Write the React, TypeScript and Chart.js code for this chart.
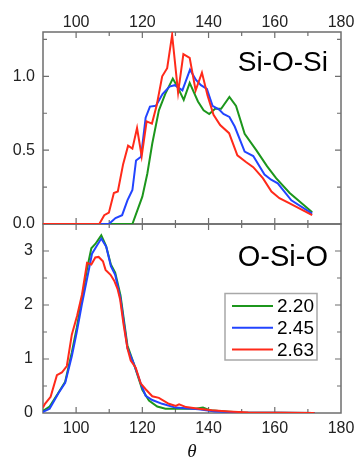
import React, { useEffect, useRef } from 'react';
import { Chart, registerables } from 'chart.js';

Chart.register(...registerables);

// ---------- data ----------
const SERIES_LABELS = ['2.20', '2.45', '2.63'];
const SERIES_COLORS = ['#1c961c', '#2244ff', '#ff2a1a'];

const X_TICKS = [100, 120, 140, 160, 180];
const TOP_Y_TICKS = [0, 0.5, 1.0];
const BOT_Y_TICKS = [0, 1, 2, 3];

// Si-O-Si panel
const sosGreenTheta = [90, 117, 120, 121.5, 123, 125, 126.9, 129.2, 130.6, 132.5, 134.3, 136.8, 138.5, 140.2, 142, 143.8, 146.3, 148.3, 150.9, 154.4, 157.7, 160.4, 164.5, 171.3];
const sosGreenVal = [0, 0, 0.185, 0.34, 0.545, 0.77, 0.88, 0.985, 0.93, 0.84, 0.955, 0.83, 0.77, 0.745, 0.78, 0.78, 0.86, 0.8, 0.61, 0.5, 0.39, 0.31, 0.21, 0.08];

const sosBlueTheta = [90, 109.9, 111.9, 113.9, 115.5, 117, 118.1, 119.6, 121, 122.3, 124.1, 126.1, 128.2, 129.8, 132.1, 134.4, 136.2, 137.7, 139.5, 141.2, 143.2, 144.5, 146.3, 147.9, 150.9, 153.5, 156.9, 158.9, 160.9, 165, 171.3];
const sosBlueVal = [0, 0, 0.04, 0.06, 0.16, 0.23, 0.43, 0.455, 0.72, 0.795, 0.8, 0.88, 0.93, 0.94, 0.905, 1.045, 0.975, 0.94, 0.915, 0.8, 0.775, 0.745, 0.725, 0.66, 0.49, 0.46, 0.335, 0.3, 0.275, 0.16, 0.07];

const sosRedTheta = [90, 107, 108.5, 109.9, 111.4, 112.6, 114.2, 115.7, 117, 118.4, 119.8, 121.3, 122.9, 124.3, 126, 127.5, 129, 130.8, 132.4, 134.3, 136.1, 138, 139.7, 141.5, 143.5, 146.2, 148.7, 151.3, 153.5, 156.4, 159, 161.4, 164.5, 171.3];
const sosRedVal = [0, 0, 0.06, 0.077, 0.21, 0.22, 0.405, 0.53, 0.51, 0.65, 0.46, 0.695, 0.68, 0.8, 1.0, 1.055, 1.28, 0.89, 1.15, 1.125, 0.905, 1.025, 0.87, 0.74, 0.67, 0.615, 0.465, 0.42, 0.385, 0.31, 0.22, 0.175, 0.14, 0.06];

// O-Si-O panel
const osoGreenTheta = [90, 92, 94.7, 96.7, 98.7, 100.2, 101.7, 103.4, 104.6, 105.8, 107.6, 109, 110.5, 111.8, 113.4, 115.5, 117.5, 120, 122, 124.5, 127, 132, 136, 138.3, 140.3, 145, 150, 172];
const osoGreenVal = [0.04, 0.12, 0.38, 0.58, 1.12, 1.58, 2.1, 2.7, 3.05, 3.13, 3.29, 3.1, 2.75, 2.6, 2.18, 1.25, 0.9, 0.43, 0.23, 0.12, 0.08, 0.08, 0.08, 0.1, 0.05, 0.03, 0.01, 0];

const osoBlueTheta = [90, 92, 94.7, 96.7, 98.7, 100.2, 101.7, 103.8, 104.8, 106.3, 107.6, 109.1, 110.5, 111.8, 113.4, 115.5, 117.5, 119.8, 121, 123, 126, 130, 137, 142, 150, 172];
const osoBlueVal = [0.02, 0.08, 0.37, 0.56, 1.05, 1.5, 2.0, 2.64, 2.95, 3.1, 3.23, 3.08, 2.72, 2.56, 2.12, 1.2, 0.9, 0.5, 0.32, 0.24, 0.17, 0.1, 0.07, 0.03, 0.01, 0];

const osoRedTheta = [90, 90.6, 92.3, 94.2, 95.7, 97.2, 98.7, 100.3, 101.8, 103.3, 104.6, 105.8, 106.8, 108.1, 108.9, 110.4, 111.5, 112.5, 113.3, 114.3, 115.5, 116.5, 118, 119.5, 121, 123, 125, 128, 130.1, 131.1, 133.2, 137, 141, 146, 152, 172];
const osoRedVal = [0.1, 0.17, 0.3, 0.7, 0.75, 0.87, 1.45, 1.8, 2.2, 2.78, 2.75, 2.88, 2.89, 2.81, 2.65, 2.56, 2.45, 2.3, 2.1, 1.65, 1.2, 0.97, 0.84, 0.55, 0.44, 0.31, 0.28, 0.17, 0.13, 0.16, 0.11, 0.08, 0.05, 0.03, 0.01, 0];

// ---------- helpers ----------
const FONT = "'Liberation Sans', Arial, sans-serif";
const FRAME = '#6e6e6e';
const TEXT = '#222222';

const pts = (t: number[], v: number[]) => t.map((x, i) => ({ x, y: v[i] }));

const makeDatasets = (sets: [number[], number[]][]) =>
  sets.map(([t, v], i) => ({
    label: SERIES_LABELS[i],
    data: pts(t, v),
    borderColor: SERIES_COLORS[i],
    backgroundColor: SERIES_COLORS[i],
    borderWidth: 2,
    pointRadius: 0,
    tension: 0,
    fill: false,
    order: 2 - i,
  }));

const framePlugin = {
  id: 'frame',
  beforeDatasetsDraw(chart: any, _args: any, opts: any) {
    const { ctx, chartArea: a, scales } = chart;
    ctx.save();
    ctx.strokeStyle = FRAME;
    ctx.lineWidth = 1.5;
    ctx.strokeRect(a.left, a.top, a.right - a.left, a.bottom - a.top);
    ctx.lineWidth = 1.2;
    ctx.beginPath();
    const xs = scales.x;
    for (let v = xs.min + 10; v < xs.max - 0.01; v += 10) {
      const px = xs.getPixelForValue(v);
      const len = v % 20 === 0 ? 6 : 4;
      ctx.moveTo(px, a.top);
      ctx.lineTo(px, a.top + len);
      ctx.moveTo(px, a.bottom);
      ctx.lineTo(px, a.bottom - len);
    }
    const ys = scales.y;
    const step = opts.yMinor;
    for (let k = 1; k * step < ys.max - 1e-6; k++) {
      const v = k * step;
      const py = ys.getPixelForValue(v);
      const len = k % 2 === 0 ? 6 : 4;
      ctx.moveTo(a.left, py);
      ctx.lineTo(a.left + len, py);
      ctx.moveTo(a.right, py);
      ctx.lineTo(a.right - len, py);
    }
    ctx.stroke();
    ctx.restore();
  },
};

const panelLabelPlugin = {
  id: 'panelLabel',
  afterDraw(chart: any, _args: any, opts: any) {
    const { ctx, chartArea: a } = chart;
    ctx.save();
    ctx.font = `${opts.size}px ${FONT}`;
    ctx.fillStyle = '#000';
    ctx.textAlign = 'right';
    ctx.textBaseline = 'alphabetic';
    ctx.fillText(opts.text, a.right - opts.dx, a.top + opts.dy);
    ctx.restore();
  },
};

const boxLegendPlugin = {
  id: 'boxLegend',
  afterDraw(chart: any, _args: any, opts: any) {
    if (!opts.show) return;
    const { ctx, chartArea: a } = chart;
    const left = a.right - 116;
    const top = a.top + 69.5;
    const w = 92;
    const h = 66.5;
    ctx.save();
    ctx.fillStyle = '#fff';
    ctx.fillRect(left, top, w, h);
    ctx.strokeStyle = '#a8a8a8';
    ctx.lineWidth = 1.5;
    ctx.strokeRect(left, top, w, h);
    ctx.font = `19px ${FONT}`;
    ctx.textBaseline = 'middle';
    ctx.textAlign = 'left';
    chart.data.datasets.forEach((ds: any, i: number) => {
      const y = top + 12.5 + i * 21.7;
      ctx.strokeStyle = ds.borderColor;
      ctx.lineWidth = 2;
      ctx.beginPath();
      ctx.moveTo(left + 7, y);
      ctx.lineTo(left + 48, y);
      ctx.stroke();
      ctx.fillStyle = '#000';
      ctx.fillText(ds.label, left + 52, y + 1);
    });
    ctx.restore();
  },
};

const setTicks = (vals: number[]) => (s: any) => {
  s.ticks = vals.map((value) => ({ value }));
};

const fixY = (s: any) => {
  s.width = 43;
  s.paddingTop = 0;
  s.paddingBottom = 0;
};

// ---------- component ----------
export default function App() {
  const topRef = useRef<HTMLCanvasElement>(null);
  const botRef = useRef<HTMLCanvasElement>(null);

  useEffect(() => {
    const tickFont = { family: FONT, size: 16 };
    const noGrid = { display: false, drawTicks: false };

    const top = new Chart(topRef.current as HTMLCanvasElement, {
      type: 'line',
      data: {
        datasets: makeDatasets([
          [sosGreenTheta, sosGreenVal],
          [sosBlueTheta, sosBlueVal],
          [sosRedTheta, sosRedVal],
        ]) as any,
      },
      options: {
        responsive: false,
        animation: false,
        devicePixelRatio: 1,
        layout: { padding: { left: 0, right: 14, top: 0, bottom: 10 } },
        plugins: {
          legend: { display: false },
          tooltip: { enabled: false },
          frame: { yMinor: 0.25 },
          panelLabel: { text: 'Si-O-Si', size: 28, dx: 13, dy: 39 },
          boxLegend: { show: false },
        } as any,
        scales: {
          x: {
            type: 'linear',
            position: 'top',
            min: 90,
            max: 180,
            grid: noGrid,
            border: { display: false },
            ticks: { color: TEXT, font: tickFont, padding: 0, maxRotation: 0, autoSkip: false },
            afterBuildTicks: setTicks(X_TICKS),
            afterFit: (s: any) => {
              s.height = 32;
              s.paddingLeft = 0;
              s.paddingRight = 0;
            },
          },
          y: {
            type: 'linear',
            min: 0,
            max: 1.3,
            grid: noGrid,
            border: { display: false },
            ticks: {
              color: TEXT,
              font: tickFont,
              padding: 8,
              callback: (v: any) => Number(v).toFixed(1),
            },
            afterBuildTicks: setTicks(TOP_Y_TICKS),
            afterFit: fixY,
          },
        },
      },
      plugins: [framePlugin, panelLabelPlugin, boxLegendPlugin],
    });

    const bot = new Chart(botRef.current as HTMLCanvasElement, {
      type: 'line',
      data: {
        datasets: makeDatasets([
          [osoGreenTheta, osoGreenVal],
          [osoBlueTheta, osoBlueVal],
          [osoRedTheta, osoRedVal],
        ]) as any,
      },
      options: {
        responsive: false,
        animation: false,
        devicePixelRatio: 1,
        layout: { padding: { left: 0, right: 14, top: 10, bottom: 0 } },
        plugins: {
          legend: { display: false },
          tooltip: { enabled: false },
          frame: { yMinor: 0.5 },
          panelLabel: { text: 'O-Si-O', size: 29, dx: 13, dy: 42 },
          boxLegend: { show: true },
        } as any,
        scales: {
          x: {
            type: 'linear',
            position: 'bottom',
            min: 90,
            max: 180,
            grid: noGrid,
            border: { display: false },
            ticks: { color: TEXT, font: tickFont, padding: 6, maxRotation: 0, autoSkip: false },
            afterBuildTicks: setTicks(X_TICKS),
            title: {
              display: true,
              text: 'θ',
              color: '#111',
              font: { family: "'Liberation Serif', 'DejaVu Serif', serif", style: 'italic', size: 19, lineHeight: 1 },
              padding: { top: 0, bottom: 0 },
            },
            afterFit: (s: any) => {
              s.height = 48;
              s.paddingLeft = 0;
              s.paddingRight = 0;
            },
          },
          y: {
            type: 'linear',
            min: 0,
            max: 3.5,
            grid: noGrid,
            border: { display: false },
            ticks: { color: TEXT, font: tickFont, padding: 10, callback: (v: any) => String(v) },
            afterBuildTicks: setTicks(BOT_Y_TICKS),
            afterFit: fixY,
          },
        },
      },
      plugins: [framePlugin, panelLabelPlugin, boxLegendPlugin],
    });

    return () => {
      top.destroy();
      bot.destroy();
    };
  }, []);

  return (
    <div style={{ position: 'absolute', left: 0, top: 0, width: 355, height: 461, background: '#fff' }}>
      <canvas
        ref={botRef}
        width={355}
        height={247}
        style={{ position: 'absolute', left: 0, top: 214, width: 355, height: 247 }}
      />
      <canvas
        ref={topRef}
        width={355}
        height={234}
        style={{ position: 'absolute', left: 0, top: 0, width: 355, height: 234 }}
      />
    </div>
  );
}
